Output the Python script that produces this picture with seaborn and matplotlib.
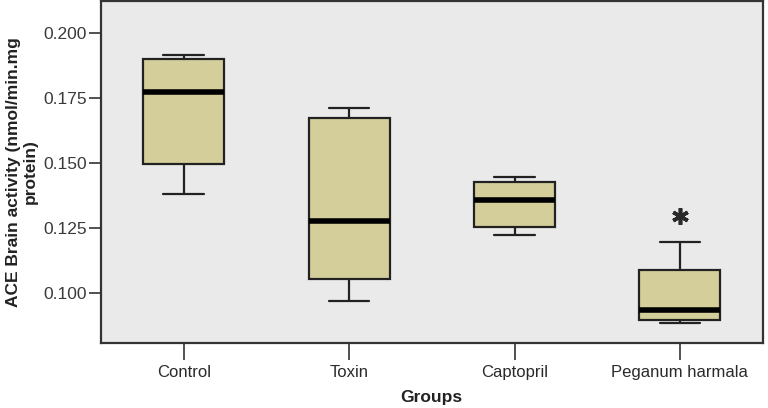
import pandas as pd
import seaborn as sns
import matplotlib.pyplot as plt

# Box summary: min, Q1, median, Q3, max per group
groups = ["Control", "Toxin", "Captopril", "Peganum harmala"]
control = [0.1380, 0.1497, 0.1771, 0.1901, 0.1914]
toxin = [0.0969, 0.1054, 0.1275, 0.1673, 0.1711]
captopril = [0.1222, 0.1255, 0.1359, 0.1426, 0.1444]
peganum = [0.0883, 0.0896, 0.0935, 0.1086, 0.1195]
# significance mark (asterisk) height per group
star_y = [None, None, None, 0.1297]

yticks = [0.100, 0.125, 0.150, 0.175, 0.200]

rows = []
for g, vals in zip(groups, [control, toxin, captopril, peganum]):
    for v in vals:
        rows.append({"Groups": g, "ACE": v})
df = pd.DataFrame(rows)

sns.set_theme(style="white")
plt.rcParams["font.family"] = ["Liberation Sans", "DejaVu Sans"]

fig = plt.figure(figsize=(7.68, 4.08), dpi=100)
ax = fig.add_axes([0.1315, 0.16, 0.8615, 0.8375])
ax.set_facecolor("#EAEAEA")

sns.boxplot(data=df, x="Groups", y="ACE", order=groups, ax=ax,
            color="#D4CF9A", saturation=1, width=0.49, whis=10,
            linewidth=1.6, linecolor="#222222", fliersize=0,
            medianprops=dict(color="black", linewidth=4),
            capprops=dict(color="#222222", linewidth=1.6),
            whiskerprops=dict(color="#222222", linewidth=1.6),
            boxprops=dict(edgecolor="#222222", linewidth=1.6))

# asterisk marks
for i, s in enumerate(star_y):
    if s is not None:
        ax.plot([i], [s], marker=(6, 2, 0), markersize=12,
                markeredgewidth=2.6, color="#2a2a2a", linestyle="none")

ax.set_ylim(0.0808, 0.2123)
ax.set_xlim(-0.5, 3.5)
ax.set_yticks(yticks)
ax.set_yticklabels([f"{t:.3f}" for t in yticks])
ax.tick_params(axis="y", direction="out", length=9, width=1.2,
               color="#333333", labelsize=12.5, labelcolor="#3a3a3a", pad=1,
               left=True)
ax.tick_params(axis="x", direction="out", length=12, width=1.2,
               color="#333333", labelsize=12, labelcolor="#2a2a2a", pad=4,
               bottom=True)
for sp in ax.spines.values():
    sp.set_color("#333333")
    sp.set_linewidth(1.6)

ax.set_xlabel("Groups", fontsize=12.5, fontweight="bold", labelpad=7,
              color="#222222")
ax.set_ylabel("ACE Brain activity (nmol/min.mg\nprotein)", fontsize=12.5,
              fontweight="bold", labelpad=4, linespacing=1.2,
              color="#222222")

fig.savefig("out.png", dpi=100)
